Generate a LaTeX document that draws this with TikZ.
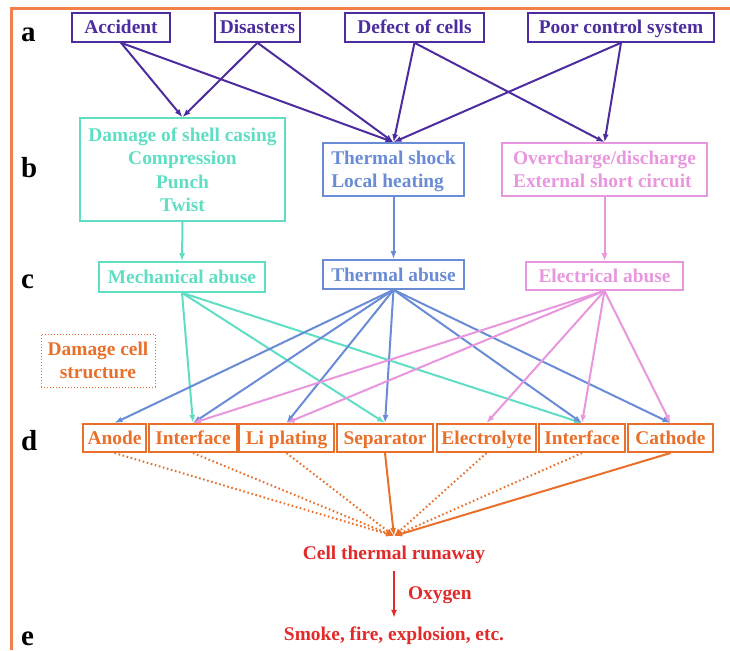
\documentclass[tikz,border=0pt]{standalone}
\usepackage{fontspec}
\setmainfont{Liberation Serif}
\usetikzlibrary{arrows.meta}
\definecolor{causec}{RGB}{76,44,158}
\definecolor{mechc}{RGB}{95,222,196}
\definecolor{thermc}{RGB}{106,140,214}
\definecolor{elecc}{RGB}{232,150,222}
\definecolor{partc}{RGB}{233,112,42}
\definecolor{runc}{RGB}{226,42,42}
\definecolor{framec}{RGB}{242,128,74}
\tikzset{
	txt/.style={font=\fontsize{19.4}{23.5}\selectfont\bfseries, inner sep=0pt},
	box/.style={txt, draw, line width=1.6pt, minimum height=29pt, text height=15pt, text depth=2pt},
	mbox/.style={txt, draw, line width=1.6pt, align=center, text depth=0pt},
	dbox/.style={box, partc, line width=2pt, minimum height=28pt},
	rowlbl/.style={font=\fontsize{29}{29}\selectfont\bfseries, anchor=base west, inner sep=0pt},
	arr/.style={line width=2pt, -{Latex[length=8pt,width=6pt]}},
	dotline/.style={dash pattern=on 1.6pt off 2.6pt},
}
\begin{document}
\begin{tikzpicture}[x=1pt, y=-1pt]
	\useasboundingbox (0,0) rectangle (730,650);
	\draw[framec, line width=3pt] (11,650) -- (11,8.5) -- (730,8.5);
	
	\node (la) at (21,42) [rowlbl]{a};
	\node (lb) at (21,177) [rowlbl]{b};
	\node (lc) at (21,288) [rowlbl]{c};
	\node (ld) at (21,450) [rowlbl]{d};
	\node (le) at (21,645) [rowlbl]{e};
	
	\node (acc) at (121,27.5) [box, causec, minimum width=98pt]{Accident};
	\node (dis) at (257.5,27.5) [box, causec, minimum width=85pt]{Disasters};
	\node (def) at (414.5,27.5) [box, causec, minimum width=139pt]{Defect of cells};
	\node (poor) at (621,27.5) [box, causec, minimum width=186pt]{Poor control system};
	
	\node (dmg) at (182.5,169.5) [mbox, mechc, minimum width=205pt, minimum height=103pt]{Damage of shell casing\\Compression\\Punch\\Twist};
	\node (thm) at (393.5,169.5) [mbox, thermc, align=left, minimum width=141pt, minimum height=53pt]{Thermal shock\\Local heating};
	\node (ovc) at (604.5,169.5) [mbox, elecc, align=left, minimum width=205pt, minimum height=53pt]{Overcharge/discharge\\External short circuit};
	
	\node (mech) at (182,277) [box, mechc, minimum width=166pt, minimum height=30pt]{Mechanical abuse};
	\node (thab) at (393.5,274.5) [box, thermc, minimum width=141pt]{Thermal abuse};
	\node (elab) at (604.5,276) [box, elecc, minimum width=157pt, minimum height=28pt]{Electrical abuse};
	\node (dcs) at (98,360.5) [mbox, partc, line width=1pt, dotted, minimum width=114pt, minimum height=53pt]{Damage cell\\structure};
	
	\foreach \n/\x/\w/\t in {anode/114.5/63/Anode, intf1/193/88/Interface, lipl/286.5/95/Li plating, sep/385/96/Separator, elec/486.5/99/Electrolyte, intf2/582/86/Interface, cath/670.5/85/Cathode}{
		\node (\n) at (\x,438) [dbox, minimum width=\w pt]{\t};
	}
	
	\foreach \s/\t in {acc/dmg, acc/thm, dis/dmg, dis/thm, def/thm, def/ovc, poor/thm, poor/ovc}{
		\draw[arr, causec] (\s.south) -- (\t.north);
	}
	\draw[arr, mechc] (dmg.south) -- (mech.north);
	\draw[arr, thermc] (thm.south) -- (thab.north);
	\draw[arr, elecc] (ovc.south) -- (elab.north);
	
	\foreach \t in {intf1, sep, intf2}{
		\draw[arr, mechc] (mech.south) -- (\t.north);
	}
	\foreach \t in {anode, intf1, lipl, sep, intf2, cath}{
		\draw[arr, thermc] (thab.south) -- (\t.north);
	}
	\foreach \t in {intf1, lipl, elec, intf2, cath}{
		\draw[arr, elecc] (elab.south) -- (\t.north);
	}
	
	\coordinate (conv) at (394,536);
	\foreach \s in {anode, intf1, lipl, elec, intf2}{
		\draw[arr, partc, dotline] (\s.south) -- (conv);
	}
	\foreach \s in {sep, cath}{
		\draw[arr, partc] (\s.south) -- (conv);
	}
	
	\node (run) at (394,553.5) [txt, runc, text height=15pt, text depth=4pt]{Cell thermal runaway};
	\node (smoke) at (394,634.5) [txt, runc, text height=15pt, text depth=4pt]{Smoke, fire, explosion, etc.};
	\draw[arr, runc, shorten <=7.5pt, shorten >=7pt] (run) -- node[txt, right=13pt, text height=15pt, text depth=4pt] (oxy){Oxygen} (smoke);
\end{tikzpicture}
\end{document}
